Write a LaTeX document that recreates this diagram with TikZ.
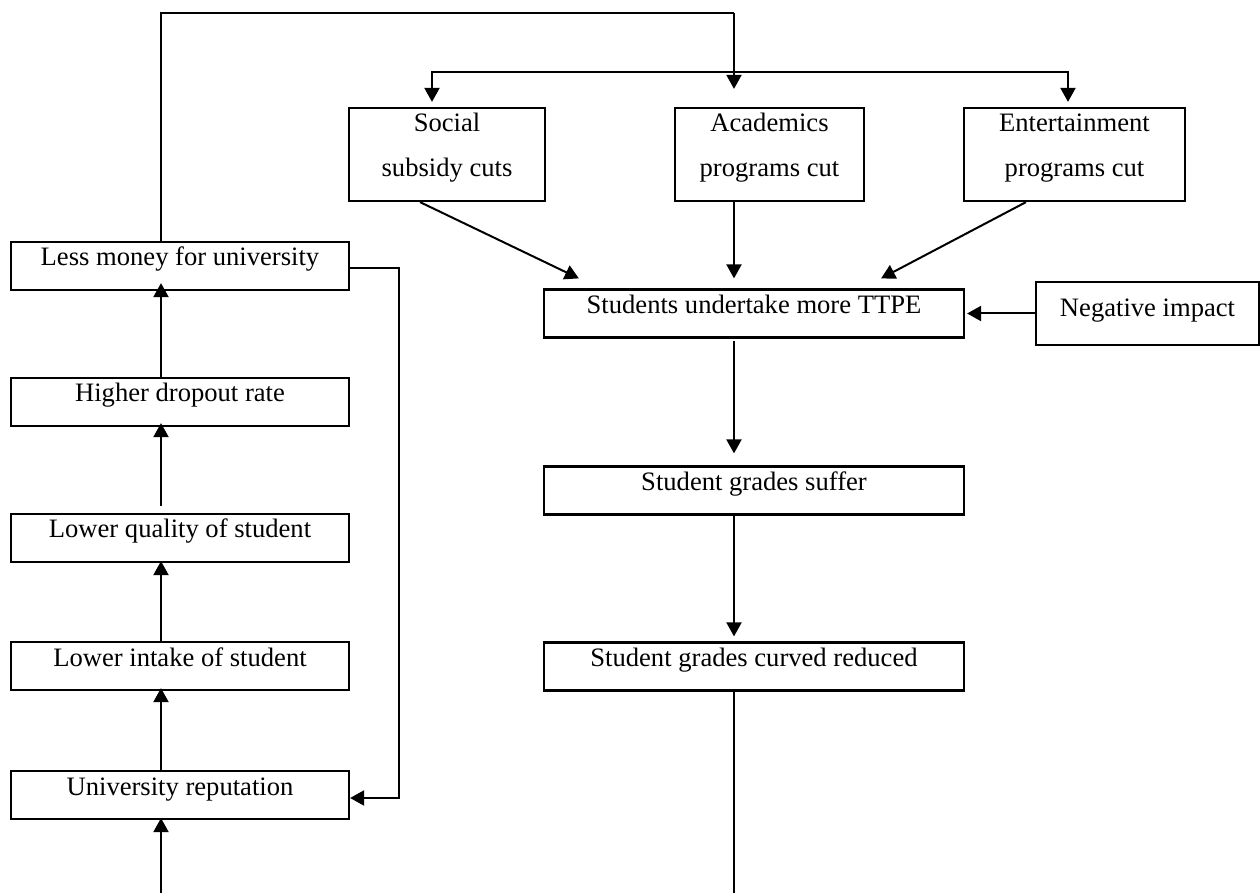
\documentclass[tikz,border=0pt]{standalone}
\usepackage{fontspec}
\setmainfont{Liberation Serif}
\usetikzlibrary{arrows.meta,calc}

\begin{document}
\begin{tikzpicture}[x=0.5pt,y=-0.5pt,
font=\fontsize{13.3pt}{22.5pt}\selectfont,
flowbox/.style={rectangle, draw=black, line width=1.1pt, inner xsep=0pt, inner ysep=0pt},
leftbox/.style={flowbox, minimum width=169pt, text height=12pt, text depth=12pt},
midbox/.style={flowbox, minimum width=210pt, text height=12pt, text depth=12pt},
cutbox/.style={flowbox, align=center, text height=34.5pt, text depth=12pt},
negbox/.style={flowbox, minimum width=111.5pt, text height=17.5pt, text depth=14pt},
link/.style={line width=1pt},
arr/.style={link, -{Triangle[length=7pt,width=7.5pt]}},
dblarr/.style={link, {Triangle[length=7pt,width=7.5pt]}-{Triangle[length=7pt,width=7.5pt]}},
]
\useasboundingbox (0,0) rectangle (1260,893);

%Nodes
\node[leftbox]      (money)      at (180,266)     {Less money for university};
\node[leftbox]      (dropout)    at (180,402)     {Higher dropout rate};
\node[leftbox]      (quality)    at (180,538)     {Lower quality of student};
\node[leftbox]      (intake)     at (180,666)     {Lower intake of student};
\node[leftbox]      (reput)      at (180,795)     {University reputation};

\node[cutbox, minimum width=98pt]    (social) at (447,154.5)    {Social\\subsidy cuts};
\node[cutbox, minimum width=94.5pt]  (acad)   at (769.5,154.5)  {Academics\\programs cut};
\node[cutbox, minimum width=110.5pt] (enter)  at (1074.5,154.5) {Entertainment\\programs cut};

\node[midbox]       (ttpe)       at (754,313.5)   {Students undertake more TTPE};
\node[midbox]       (suffer)     at (754,490.5)   {Student grades suffer};
\node[midbox]       (curved)     at (754,666.5)   {Student grades curved reduced};
\node[negbox]       (neg)        at (1147.5,313.5) {Negative impact};

%Coordinates
\coordinate (lx) at (161,0);
\coordinate (mx) at (734,0);
\coordinate (sidex) at (399,0);
\coordinate (loopT) at (734,13);
\coordinate (brL) at (432,72);
\coordinate (brR) at (1068,72);
\coordinate (endL) at (161,893);
\coordinate (endM) at (734,893);

%Lines
\draw[link] (money.north -| lx) |- (loopT);
\draw[arr, shorten >=9pt] (loopT) -- (acad.north -| mx);
\draw[dblarr, shorten <=2.5pt, shorten >=2.5pt] (social.north -| brL) -- (brL) -- (brR) -- (enter.north -| brR);

\draw[arr] ($(social.south)+(-27,0)$) -- ($(ttpe.north west)+(36,-10)$);
\draw[arr, shorten >=5pt] (acad.south -| mx) -- (ttpe.north -| mx);
\draw[arr] ($(enter.south)+(-48.5,0)$) -- ($(ttpe.north east)+(-84,-10)$);
\draw[arr, shorten >=1pt] (neg.west) -- (ttpe.east);

\draw[arr, shorten <=1pt, shorten >=6pt] (ttpe.south -| mx) -- (suffer.north -| mx);
\draw[arr, shorten >=2.5pt] (suffer.south -| mx) -- (curved.north -| mx);
\draw[link] (curved.south -| mx) -- (endM);

\draw[arr] ([yshift=-1pt]money.east) -- ([yshift=-1pt]money.east -| sidex) -- ([yshift=-1.5pt]reput.east -| sidex) -- ([yshift=-1.5pt]reput.east);
\draw[arr, shorten >=-4pt] (dropout.north -| lx) -- (money.south -| lx);
\draw[arr, shorten <=3.5pt, shorten >=-2pt] (quality.north -| lx) -- (dropout.south -| lx);
\draw[arr, shorten >=-1pt] (intake.north -| lx) -- (quality.south -| lx);
\draw[arr, shorten >=-1.5pt] (reput.north -| lx) -- (intake.south -| lx);
\draw[arr, shorten >=-1pt] (endL) -- (reput.south -| lx);
\end{tikzpicture}
\end{document}
